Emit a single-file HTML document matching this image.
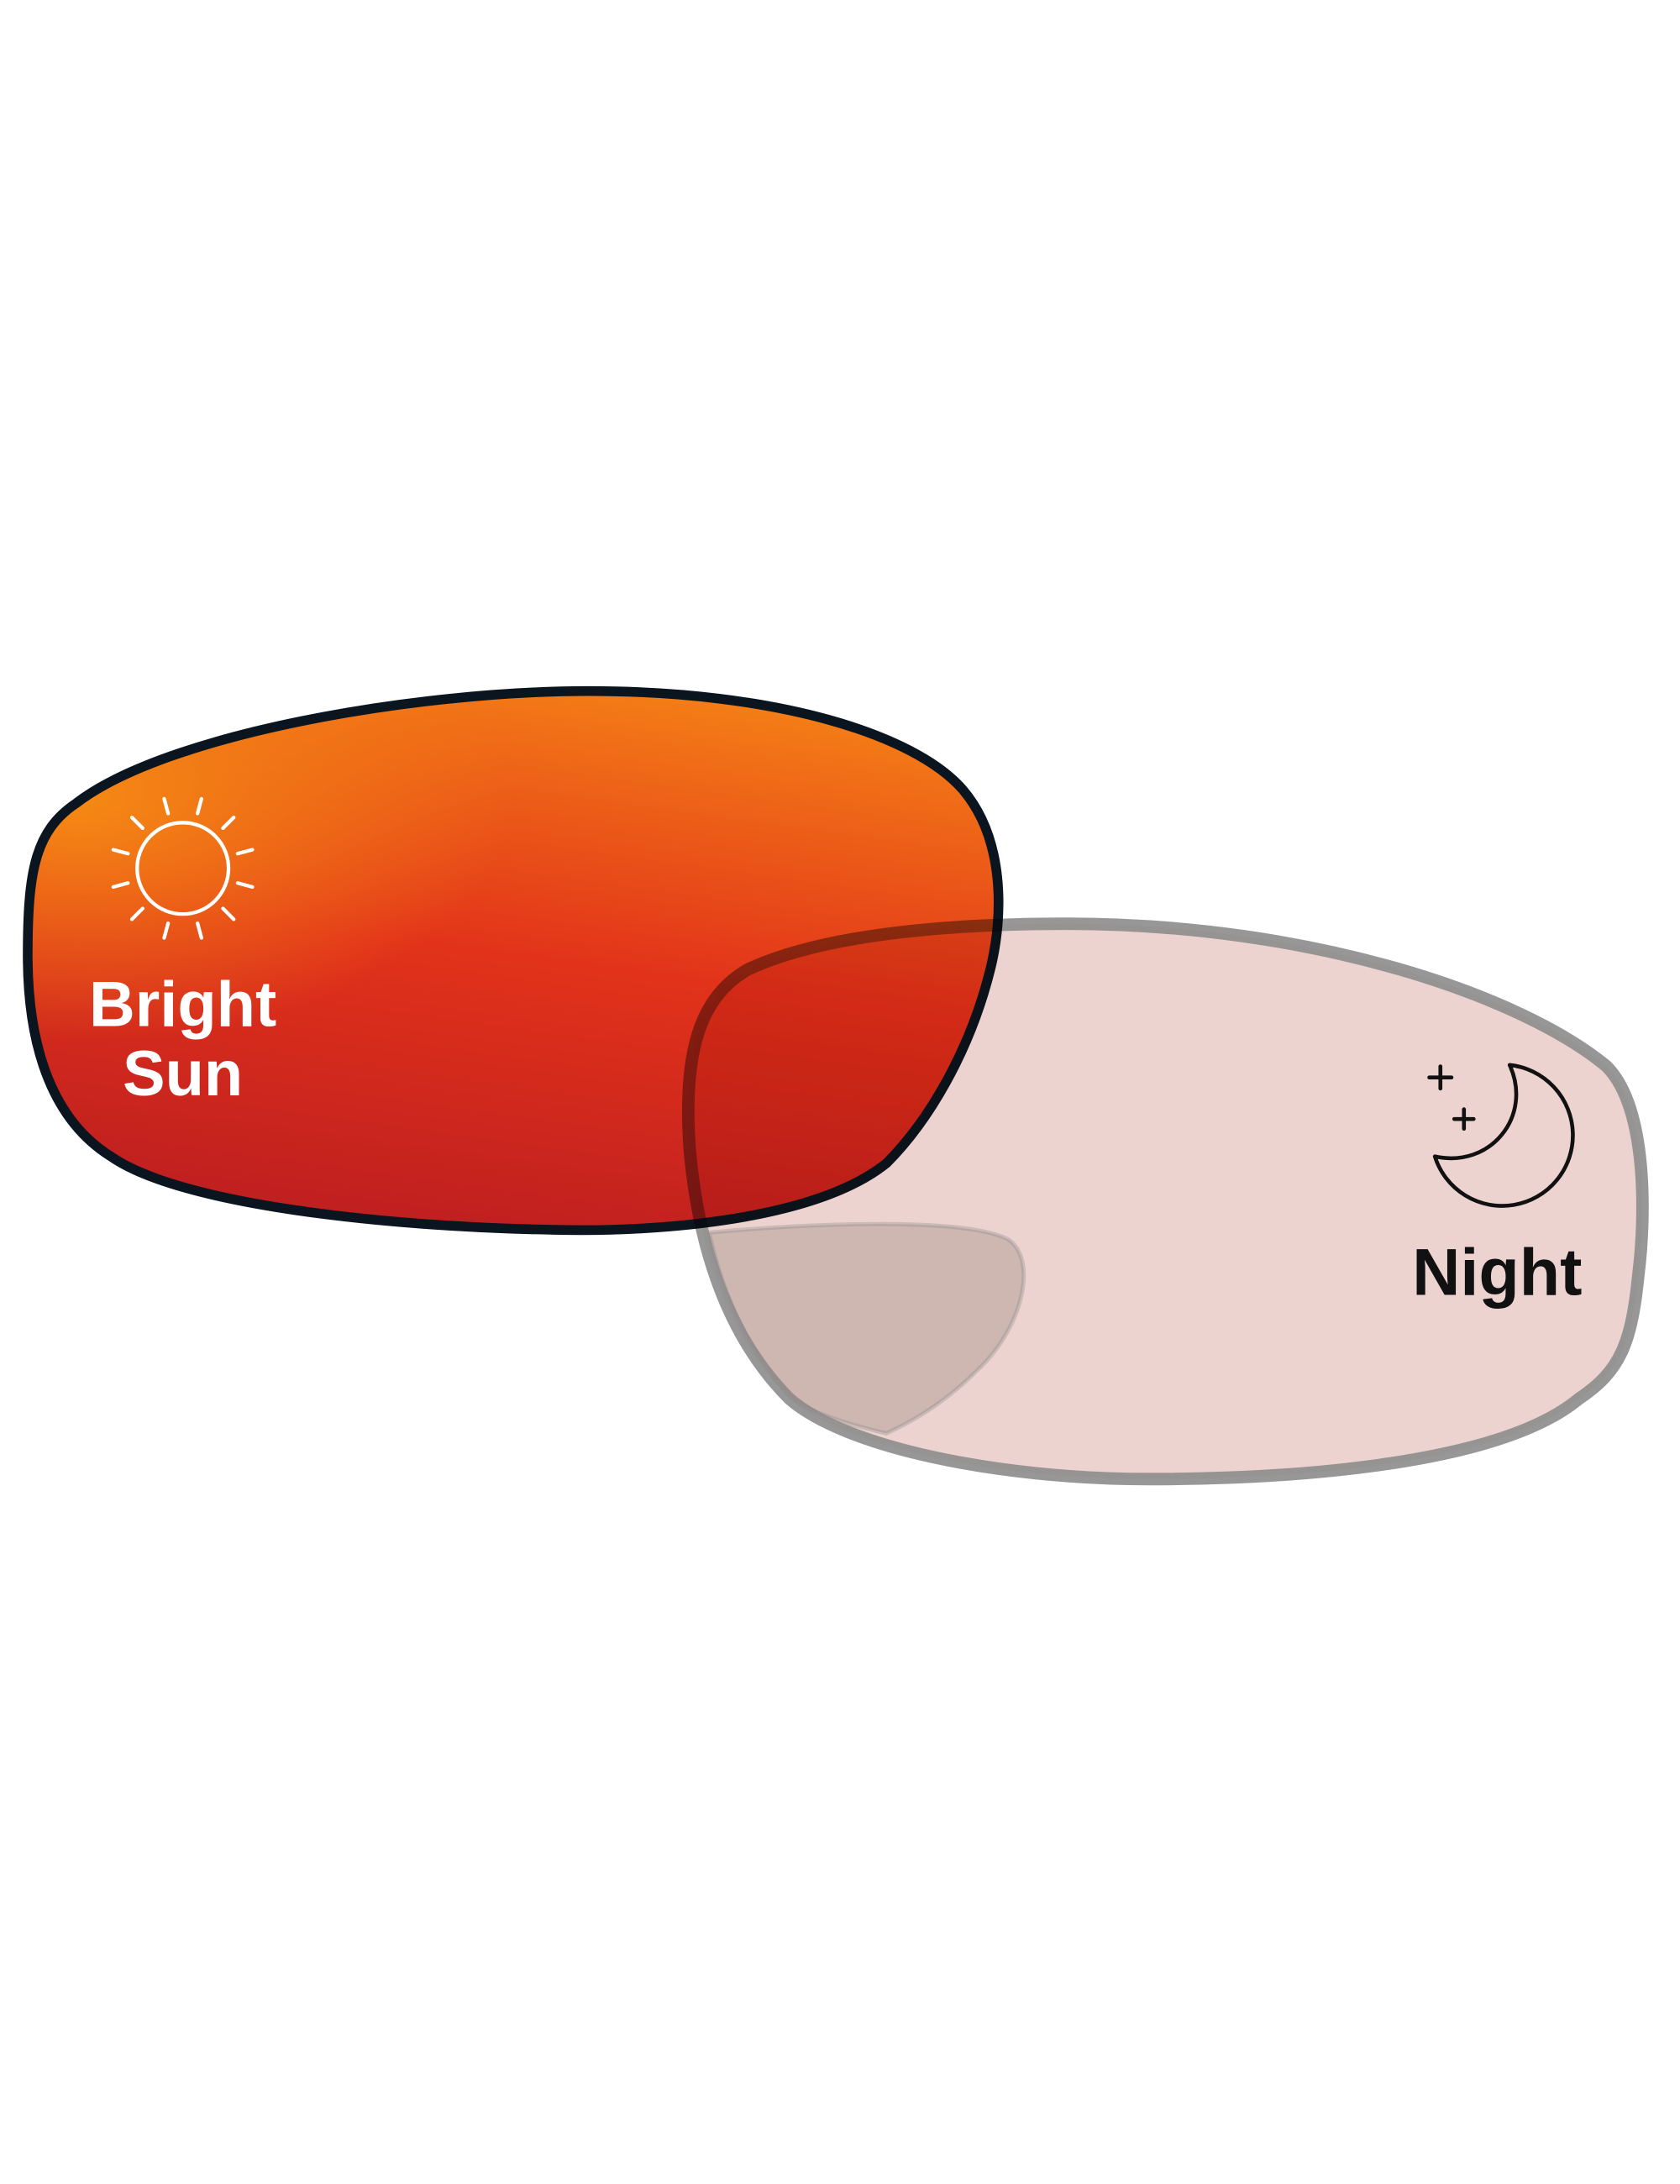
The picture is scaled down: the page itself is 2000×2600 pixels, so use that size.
<!DOCTYPE html>
<html><head><meta charset="utf-8"><style>
html,body{margin:0;padding:0;background:#fff;}
svg{display:block;}
</style></head><body>
<svg width="2000" height="2600" viewBox="0 0 1213 1577" preserveAspectRatio="none" xmlns="http://www.w3.org/2000/svg">
<defs>
<linearGradient id="rg" x1="0.65" y1="0" x2="0.4" y2="1">
<stop offset="0" stop-color="#f47e16"/>
<stop offset="0.5" stop-color="#e2321a"/>
<stop offset="1" stop-color="#bf1f20"/>
</linearGradient>
<radialGradient id="og" cx="0.05" cy="0.2" r="0.45">
<stop offset="0" stop-color="#f58a14" stop-opacity="1"/>
<stop offset="1" stop-color="#f58a14" stop-opacity="0"/>
</radialGradient>
</defs>
<rect width="1213" height="1577" fill="#fff"/>
<path d="M 425 499 C 560 499 660 530 695 570 C 725 605 725 660 715 700 C 700 760 670 810 640 840 C 590 880 480 890 400 888 C 280 886 130 870 80 835 C 40 810 20 760 20 690 C 20 630 25 600 55 580 C 120 530 300 499 425 499 Z" fill="url(#rg)"/>
<path d="M 425 499 C 560 499 660 530 695 570 C 725 605 725 660 715 700 C 700 760 670 810 640 840 C 590 880 480 890 400 888 C 280 886 130 870 80 835 C 40 810 20 760 20 690 C 20 630 25 600 55 580 C 120 530 300 499 425 499 Z" fill="url(#og)" stroke="#0b1520" stroke-width="7"/>
<g stroke="#fff" stroke-width="2.6" fill="none" stroke-linecap="round">
<circle cx="132" cy="627" r="33"/>
<g transform="translate(132,627)">
<line x1="0" y1="-41" x2="0" y2="-52" transform="rotate(-15)"/>
<line x1="0" y1="-41" x2="0" y2="-52" transform="rotate(15)"/>
<line x1="0" y1="-41" x2="0" y2="-52" transform="rotate(45)"/>
<line x1="0" y1="-41" x2="0" y2="-52" transform="rotate(75)"/>
<line x1="0" y1="-41" x2="0" y2="-52" transform="rotate(105)"/>
<line x1="0" y1="-41" x2="0" y2="-52" transform="rotate(135)"/>
<line x1="0" y1="-41" x2="0" y2="-52" transform="rotate(165)"/>
<line x1="0" y1="-41" x2="0" y2="-52" transform="rotate(195)"/>
<line x1="0" y1="-41" x2="0" y2="-52" transform="rotate(225)"/>
<line x1="0" y1="-41" x2="0" y2="-52" transform="rotate(255)"/>
<line x1="0" y1="-41" x2="0" y2="-52" transform="rotate(285)"/>
<line x1="0" y1="-41" x2="0" y2="-52" transform="rotate(315)"/>
</g>
</g>
<text x="132" y="741" text-anchor="middle" font-family="Liberation Sans, sans-serif" font-weight="bold" font-size="46" fill="#fff">Bright</text>
<text x="132" y="791" text-anchor="middle" font-family="Liberation Sans, sans-serif" font-weight="bold" font-size="46" fill="#fff">Sun</text>
<path d="M 770 667 C 950 667 1100 720 1160 770 C 1190 800 1188 880 1183 920 C 1178 970 1170 990 1140 1010 C 1080 1060 920 1068 830 1068 C 720 1068 610 1045 570 1010 C 530 970 505 910 498 830 C 493 760 505 720 540 700 C 600 672 700 667 770 667 Z" fill="#edd3cf" style="mix-blend-mode:multiply" stroke="#8c8c8c" stroke-opacity="0.9" stroke-width="9"/>
<path d="M 512 890 C 600 882 700 880 728 895 C 750 910 738 960 705 990 C 685 1010 662 1025 640 1035 C 610 1028 585 1020 570 1008 C 540 975 522 935 512 890 Z" fill="#9a8582" fill-opacity="0.38" stroke="#8c8c8c" stroke-opacity="0.35" stroke-width="3"/>
<g stroke="#111" stroke-width="2.8" fill="none" stroke-linecap="round" stroke-linejoin="round">
<path d="M 1090 769 A 51 51 0 1 1 1036 835 C 1076 844 1107 806 1090 769 Z"/>
<line x1="1032" y1="778" x2="1048" y2="778"/><line x1="1040" y1="770" x2="1040" y2="786"/>
<line x1="1050" y1="808" x2="1064" y2="808"/><line x1="1057" y1="801" x2="1057" y2="815"/>
</g>
<text x="1081" y="935" text-anchor="middle" font-family="Liberation Sans, sans-serif" font-weight="bold" font-size="48" fill="#111">Night</text>
</svg>
</body></html>
